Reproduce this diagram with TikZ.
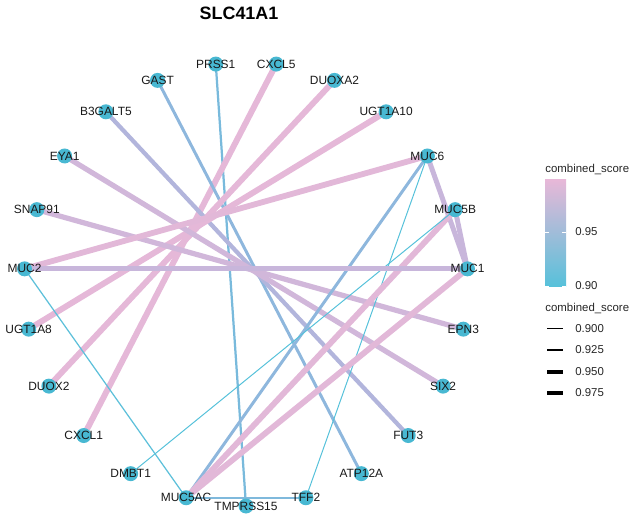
\documentclass[tikz,border=0pt]{standalone}
\usepackage{fontspec}
\setmainfont{Liberation Sans}
\usetikzlibrary{backgrounds}

\definecolor{genefill}{RGB}{72,184,210}
\definecolor{lowscore}{RGB}{86,193,218}
\definecolor{midscore}{RGB}{156,180,222}
\definecolor{highscore}{RGB}{231,184,216}

% edge between two genes, width and colour from the score
\newcommand{\scoreedge}[3]{%
  \pgfmathtruncatemacro{\lowpart}{min(100,max(0,(#3-0.9)*2000))}%
  \pgfmathtruncatemacro{\highpart}{min(100,max(0,(#3-0.95)*2000))}%
  \colorlet{edgecol}{midscore!\lowpart!lowscore}%
  \colorlet{edgecol}{highscore!\highpart!edgecol}%
  \pgfmathsetmacro{\edgew}{(1+(#3-0.9)*50)*0.567}%
  \draw[line width=\edgew pt,edgecol] (#1) -- (#2);}

\begin{document}
\begin{tikzpicture}[x=0.02cm,y=0.02cm,
    gene/.style={circle,fill=genefill,minimum size=0.3cm,inner sep=0pt},
    genetext/.style={font=\fontsize{6.8pt}{7pt}\selectfont,text=black!90,inner sep=0pt},
    legendtext/.style={font=\fontsize{6.5pt}{7pt}\selectfont,text=black!85,inner sep=0pt}]
  \useasboundingbox (-246,-239) rectangle (395,284);

  \node[font=\fontsize{10.2pt}{11pt}\selectfont\bfseries] (title) at (-7,271) {SLC41A1};

  % genes on the circle
  \node[gene,label={[genetext]center:TMPRSS15}] (TMPRSS15) at ({-90+0*360/23}:222) {};
  \node[gene,label={[genetext]center:TFF2}] (TFF2) at ({-90+1*360/23}:222) {};
  \node[gene,label={[genetext]center:ATP12A}] (ATP12A) at ({-90+2*360/23}:222) {};
  \node[gene,label={[genetext]center:FUT3}] (FUT3) at ({-90+3*360/23}:222) {};
  \node[gene,label={[genetext]center:SIX2}] (SIX2) at ({-90+4*360/23}:222) {};
  \node[gene,label={[genetext]center:EPN3}] (EPN3) at ({-90+5*360/23}:222) {};
  \node[gene,label={[genetext]center:MUC1}] (MUC1) at ({-90+6*360/23}:222) {};
  \node[gene,label={[genetext]center:MUC5B}] (MUC5B) at ({-90+7*360/23}:222) {};
  \node[gene,label={[genetext]center:MUC6}] (MUC6) at ({-90+8*360/23}:222) {};
  \node[gene,label={[genetext]center:UGT1A10}] (UGT1A10) at ({-90+9*360/23}:222) {};
  \node[gene,label={[genetext]center:DUOXA2}] (DUOXA2) at ({-90+10*360/23}:222) {};
  \node[gene,label={[genetext]center:CXCL5}] (CXCL5) at ({-90+11*360/23}:222) {};
  \node[gene,label={[genetext]center:PRSS1}] (PRSS1) at ({-90+12*360/23}:222) {};
  \node[gene,label={[genetext]center:GAST}] (GAST) at ({-90+13*360/23}:222) {};
  \node[gene,label={[genetext]center:B3GALT5}] (B3GALT5) at ({-90+14*360/23}:222) {};
  \node[gene,label={[genetext]center:EYA1}] (EYA1) at ({-90+15*360/23}:222) {};
  \node[gene,label={[genetext]center:SNAP91}] (SNAP91) at ({-90+16*360/23}:222) {};
  \node[gene,label={[genetext]center:MUC2}] (MUC2) at ({-90+17*360/23}:222) {};
  \node[gene,label={[genetext]center:UGT1A8}] (UGT1A8) at ({-90+18*360/23}:222) {};
  \node[gene,label={[genetext]center:DUOX2}] (DUOX2) at ({-90+19*360/23}:222) {};
  \node[gene,label={[genetext]center:CXCL1}] (CXCL1) at ({-90+20*360/23}:222) {};
  \node[gene,label={[genetext]center:DMBT1}] (DMBT1) at ({-90+21*360/23}:222) {};
  \node[gene,label={[genetext]center:MUC5AC}] (MUC5AC) at ({-90+22*360/23}:222) {};

  % interactions
  \begin{scope}[on background layer]
    \scoreedge{PRSS1.center}{TMPRSS15.center}{0.925}
    \scoreedge{CXCL5.center}{CXCL1.center}{0.999}
    \scoreedge{GAST.center}{ATP12A.center}{0.94}
    \scoreedge{DUOXA2.center}{DUOX2.center}{0.999}
    \scoreedge{B3GALT5.center}{FUT3.center}{0.965}
    \scoreedge{UGT1A10.center}{UGT1A8.center}{0.999}
    \scoreedge{EYA1.center}{SIX2.center}{0.985}
    \scoreedge{SNAP91.center}{EPN3.center}{0.985}
    \scoreedge{MUC6.center}{MUC2.center}{0.997}
    \scoreedge{MUC6.center}{MUC1.center}{0.98}
    \scoreedge{MUC6.center}{MUC5AC.center}{0.94}
    \scoreedge{MUC6.center}{TFF2.center}{0.90}
    \scoreedge{MUC5B.center}{MUC1.center}{0.98}
    \scoreedge{MUC5B.center}{MUC5AC.center}{0.997}
    \scoreedge{MUC5B.center}{DMBT1.center}{0.90}
    \scoreedge{MUC2.center}{MUC1.center}{0.98}
    \scoreedge{MUC2.center}{MUC5AC.center}{0.905}
    \scoreedge{MUC1.center}{MUC5AC.center}{0.997}
    \scoreedge{MUC5AC.center}{TFF2.center}{0.93}
  \end{scope}

  % colour legend
  \node[legendtext,anchor=west] (coltitle) at (299,114) {combined\_score};
  \shade[bottom color=lowscore,middle color=midscore,top color=highscore] (299,-3) rectangle (320,104);
  \draw[white,line width=0.5pt] (299,52) -- ++(4,0) (316,52) -- ++(4,0);
  \draw[white,line width=0.5pt] (299,-2) -- ++(4,0) (316,-2) -- ++(4,0);
  \node[legendtext,anchor=west] (col95) at (329,52) {0.95};
  \node[legendtext,anchor=west] (col90) at (329,-2) {0.90};

  % width legend
  \node[legendtext,anchor=west] (widtitle) at (299,-24) {combined\_score};
  \node[legendtext,anchor=west] (w900) at (329,-45) {0.900};
  \node[legendtext,anchor=west] (w925) at (329,-66) {0.925};
  \node[legendtext,anchor=west] (w950) at (329,-88) {0.950};
  \node[legendtext,anchor=west] (w975) at (329,-109) {0.975};
  \coordinate (l900) at (301,-45);
  \coordinate (l925) at (301,-66);
  \coordinate (l950) at (301,-88);
  \coordinate (l975) at (301,-109);
  \draw[line width=0.57pt] (l900) -- ++(16,0);
  \draw[line width=1.2pt] (l925) -- ++(16,0);
  \draw[line width=1.8pt] (l950) -- ++(16,0);
  \draw[line width=2.4pt] (l975) -- ++(16,0);
\end{tikzpicture}
\end{document}
